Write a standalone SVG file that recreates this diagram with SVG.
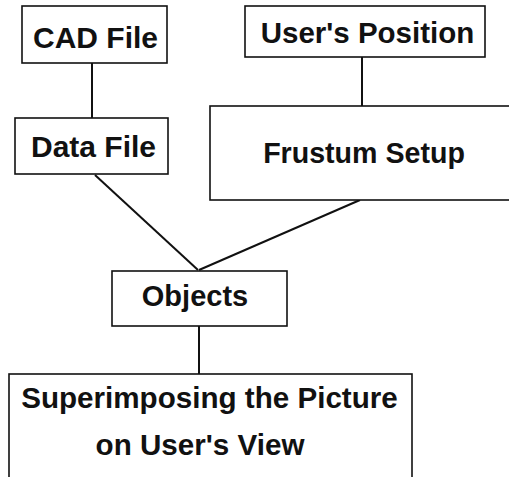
<svg xmlns="http://www.w3.org/2000/svg" width="509" height="477" viewBox="0 0 509 477">
<style>
.box{fill:#fff;stroke:#111;stroke-width:1.6}
.lbl{font-family:"Liberation Sans",Arial,sans-serif;font-weight:bold;fill:#111;text-anchor:middle}
.con{stroke:#111;stroke-width:2;fill:none}
</style>
<rect width="509" height="477" fill="#fff"/>
<g id="connectors">
<line class="con" x1="92" y1="63" x2="92" y2="118"/>
<line class="con" x1="362" y1="57" x2="362" y2="106"/>
<line class="con" x1="95" y1="175" x2="198" y2="270"/>
<line class="con" x1="360" y1="200" x2="199" y2="270"/>
<line class="con" x1="199" y1="326" x2="199" y2="374"/>
</g>
<g id="cad">
<rect class="box" x="22" y="6" width="145" height="57"/>
<text class="lbl" x="95.5" y="48" font-size="30">CAD File</text>
</g>
<g id="user">
<rect class="box" x="245" y="6" width="240" height="51"/>
<text class="lbl" x="367.5" y="43" font-size="29.5">User's Position</text>
</g>
<g id="data">
<rect class="box" x="15" y="118" width="153" height="56"/>
<text class="lbl" x="93.5" y="157" font-size="30">Data File</text>
</g>
<g id="frustum">
<rect class="box" x="210" y="106" width="302" height="94"/>
<text class="lbl" x="364" y="163" font-size="28.6">Frustum Setup</text>
</g>
<g id="objects">
<rect class="box" x="112" y="271" width="175" height="55"/>
<text class="lbl" x="195" y="306" font-size="29">Objects</text>
</g>
<g id="super">
<rect class="box" x="9" y="374" width="403" height="110"/>
<text class="lbl" x="209.5" y="408" font-size="29.6">Superimposing the Picture</text>
<text class="lbl" x="200" y="455" font-size="29.6">on User's View</text>
</g>
</svg>
